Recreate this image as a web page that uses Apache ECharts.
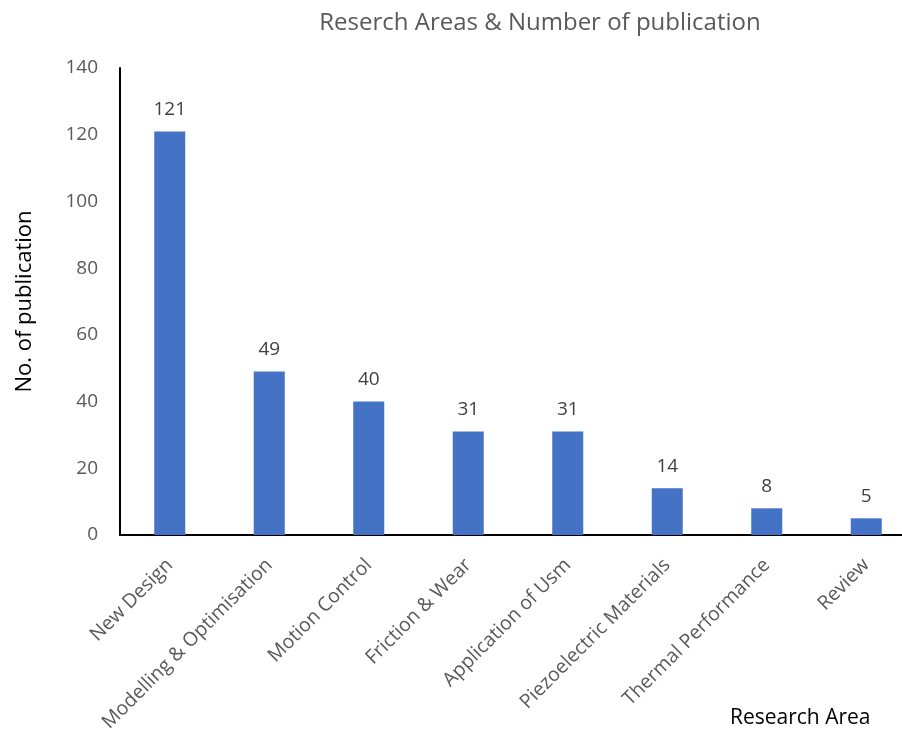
<!DOCTYPE html>
<html>
<head>
<meta charset="utf-8">
<script src="https://cdn.jsdelivr.net/npm/echarts@6/dist/echarts.min.js"></script>
<style>
  html, body { margin: 0; padding: 0; background: #fff; }
  #chart { width: 902px; height: 732px; }
</style>
</head>
<body>
<div id="chart"></div>
<script>
var categories = ['New Design', 'Modelling & Optimisation', 'Motion Control', 'Friction & Wear',
                  'Application of Usm', 'Piezoelectric Materials', 'Thermal Performance', 'Review'];
var publications = [121, 49, 40, 31, 31, 14, 8, 5];
var yTicks = [0, 20, 40, 60, 80, 100, 120, 140];

var font = 'Open Sans';
var myChart = echarts.init(document.getElementById('chart'));

var option = {
    animation: false,
    textStyle: { fontFamily: font },
    title: [
        {
            text: 'Reserch Areas & Number of publication',
            left: 535, top: 6, textAlign: 'center',
            textStyle: { fontFamily: font, fontSize: 24, fontWeight: 'normal', color: '#595959' }
        },
        {
            text: 'Research Area',
            left: 725, top: 703,
            textStyle: { fontFamily: font, fontSize: 21, fontWeight: 'normal', color: '#000' }
        }
    ],
    grid: { left: 120, top: 68, width: 796, height: 467, outerBoundsMode: 'none' },
    xAxis: {
        type: 'category',
        data: categories,
        axisLine: { lineStyle: { color: '#000', width: 2 } },
        axisTick: { show: false },
        axisLabel: {
            rotate: 45, margin: 27, interval: 0,
            fontFamily: font, fontSize: 19.5, color: '#595959'
        }
    },
    yAxis: {
        type: 'value',
        min: yTicks[0], max: yTicks[yTicks.length - 1], interval: 20,
        name: 'No. of publication',
        nameLocation: 'middle', nameGap: 84, nameRotate: 90,
        nameTextStyle: { fontFamily: font, fontSize: 22, color: '#000' },
        axisLine: { show: true, lineStyle: { color: '#000', width: 2 } },
        axisTick: { show: false },
        splitLine: { show: false },
        axisLabel: { margin: 22, fontFamily: font, fontSize: 19, color: '#595959' }
    },
    series: [{
        type: 'bar',
        data: publications,
        barWidth: 31,
        itemStyle: { color: '#4472C4' },
        label: {
            show: true, position: 'top', distance: 12,
            fontFamily: font, fontSize: 19, color: '#404040'
        }
    }]
};

myChart.setOption(option);
</script>
</body>
</html>
